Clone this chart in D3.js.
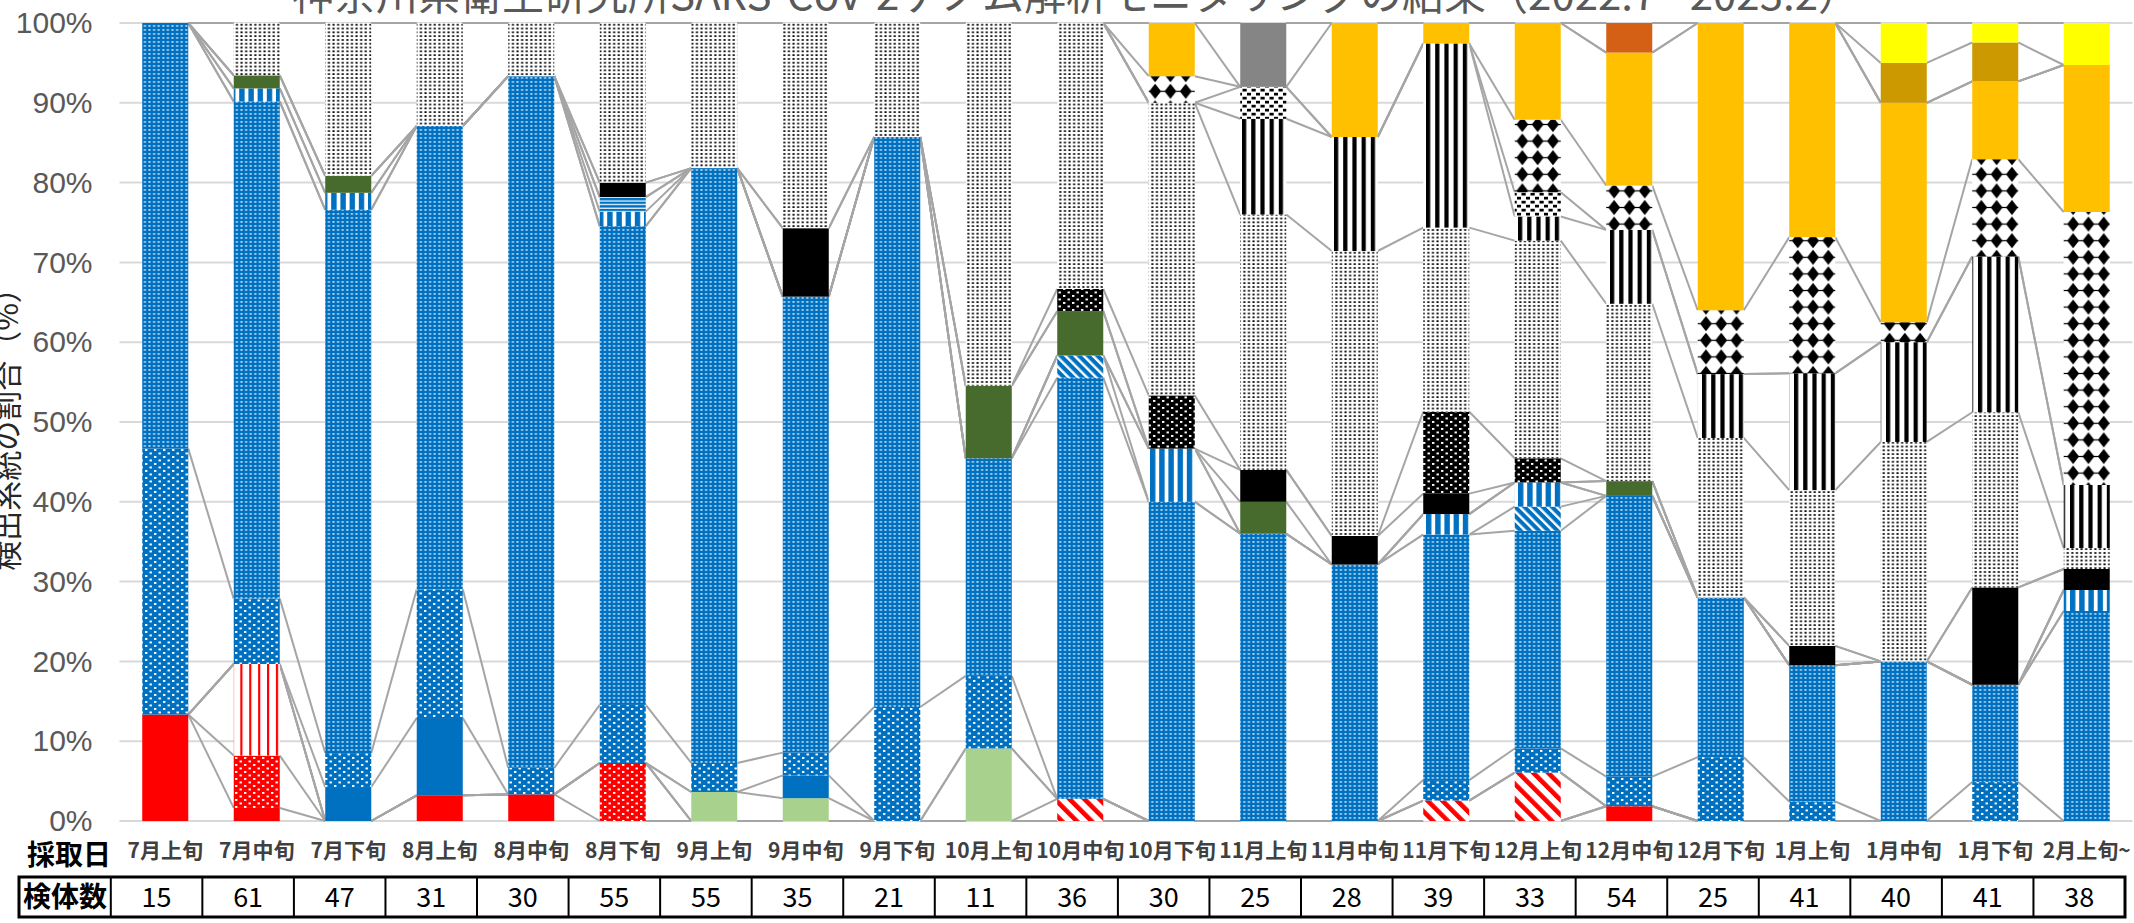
<!DOCTYPE html>
<html>
<head>
<meta charset="utf-8">
<script src="https://cdn.jsdelivr.net/npm/d3@7"></script>
<style>
    body { margin: 0; background: #ffffff; }
</style>
</head>
<body>
<div id="chart"></div>
<script>
// 採取日 (sampling period) and 検体数 (number of specimens)
const categories = ["7月上旬", "7月中旬", "7月下旬", "8月上旬", "8月中旬", "8月下旬", "9月上旬", "9月中旬", "9月下旬", "10月上旬", "10月中旬",
    "10月下旬", "11月上旬", "11月中旬", "11月下旬", "12月上旬", "12月中旬", "12月下旬", "1月上旬", "1月中旬", "1月下旬", "2月上旬~"];
const specimenCounts = [15, 61, 47, 31, 30, 55, 55, 35, 21, 11, 36, 30, 25, 28, 39, 33, 54, 25, 41, 40, 41, 38];

// Specimens per lineage group, stacked bottom -> top
const redSolid     = [2, 1, 0, 1, 1, 0, 0, 0, 0, 0, 0, 0, 0, 0, 0, 0, 1, 0, 0, 0, 0, 0];
const redDot       = [0, 4, 0, 0, 0, 4, 0, 0, 0, 0, 0, 0, 0, 0, 0, 0, 0, 0, 0, 0, 0, 0];
const redVStripe   = [0, 7, 0, 0, 0, 0, 0, 0, 0, 0, 0, 0, 0, 0, 0, 0, 0, 0, 0, 0, 0, 0];
const redDiag      = [0, 0, 0, 0, 0, 0, 0, 0, 0, 0, 1, 0, 0, 0, 1, 2, 0, 0, 0, 0, 0, 0];
const lightGreen   = [0, 0, 0, 0, 0, 0, 2, 1, 0, 1, 0, 0, 0, 0, 0, 0, 0, 0, 0, 0, 0, 0];
const blueSolid    = [0, 0, 2, 3, 0, 0, 0, 1, 0, 0, 0, 0, 0, 0, 0, 0, 0, 0, 0, 0, 0, 0];
const blueBigDot   = [5, 5, 2, 5, 1, 4, 2, 1, 3, 1, 0, 0, 0, 0, 1, 1, 2, 2, 1, 0, 2, 0];
const blueSmallDot = [8, 38, 32, 18, 26, 33, 41, 20, 15, 3, 19, 12, 9, 9, 12, 9, 19, 5, 7, 8, 5, 10];
const blueDiag     = [0, 0, 0, 0, 0, 0, 0, 0, 0, 0, 1, 0, 0, 0, 0, 1, 0, 0, 0, 0, 0, 0];
const blueVStripe  = [0, 1, 1, 0, 0, 1, 0, 0, 0, 0, 0, 2, 0, 0, 1, 1, 0, 0, 0, 0, 0, 1];
const blueHStripe  = [0, 0, 0, 0, 0, 1, 0, 0, 0, 0, 0, 0, 0, 0, 0, 0, 0, 0, 0, 0, 0, 0];
const darkGreen    = [0, 1, 1, 0, 0, 0, 0, 0, 0, 1, 2, 0, 1, 0, 0, 0, 1, 0, 0, 0, 0, 0];
const blackSolid   = [0, 0, 0, 0, 0, 1, 0, 3, 0, 0, 0, 0, 1, 1, 1, 0, 0, 0, 1, 0, 5, 1];
const blackDot     = [0, 0, 0, 0, 0, 0, 0, 0, 0, 0, 1, 2, 0, 0, 4, 1, 0, 0, 0, 0, 0, 0];
const fineDot      = [0, 4, 9, 4, 2, 11, 10, 9, 3, 5, 12, 11, 8, 10, 9, 9, 12, 5, 8, 11, 9, 1];
const blackVStripe = [0, 0, 0, 0, 0, 0, 0, 0, 0, 0, 0, 0, 3, 4, 9, 1, 5, 2, 6, 5, 8, 3];
const checker      = [0, 0, 0, 0, 0, 0, 0, 0, 0, 0, 0, 0, 1, 0, 0, 1, 0, 0, 0, 0, 0, 0];
const diamond      = [0, 0, 0, 0, 0, 0, 0, 0, 0, 0, 0, 1, 0, 0, 0, 3, 3, 2, 7, 1, 5, 13];
const orange       = [0, 0, 0, 0, 0, 0, 0, 0, 0, 0, 0, 2, 0, 4, 1, 4, 9, 9, 11, 11, 4, 7];
const gray         = [0, 0, 0, 0, 0, 0, 0, 0, 0, 0, 0, 0, 2, 0, 0, 0, 0, 0, 0, 0, 0, 0];
const darkOrange   = [0, 0, 0, 0, 0, 0, 0, 0, 0, 0, 0, 0, 0, 0, 0, 0, 2, 0, 0, 0, 0, 0];
const darkYellow   = [0, 0, 0, 0, 0, 0, 0, 0, 0, 0, 0, 0, 0, 0, 0, 0, 0, 0, 0, 2, 2, 0];
const yellow       = [0, 0, 0, 0, 0, 0, 0, 0, 0, 0, 0, 0, 0, 0, 0, 0, 0, 0, 0, 2, 1, 2];

const yTicks = [0, 0.1, 0.2, 0.3, 0.4, 0.5, 0.6, 0.7, 0.8, 0.9, 1];

const chartTitle = "神奈川県衛生研究所SARS-CoV-2ゲノム解析モニタリングの結果（2022.7 - 2023.2）";
const yTitle = "検出系統の割合（%）";

// series in stacking order, with the fill each one uses
const series = [
    {key: "redSolid", values: redSolid, fill: "#FF0000"},
    {key: "redDot", values: redDot, fill: "url(#pRedDot)"},
    {key: "redVStripe", values: redVStripe, fill: "url(#pRedVStripe)"},
    {key: "redDiag", values: redDiag, fill: "url(#pRedDiag)"},
    {key: "lightGreen", values: lightGreen, fill: "#A9D18E"},
    {key: "blueSolid", values: blueSolid, fill: "#0070C0"},
    {key: "blueBigDot", values: blueBigDot, fill: "url(#pBlueBigDot)"},
    {key: "blueSmallDot", values: blueSmallDot, fill: "url(#pBlueSmallDot)"},
    {key: "blueDiag", values: blueDiag, fill: "url(#pBlueDiag)"},
    {key: "blueVStripe", values: blueVStripe, fill: "url(#pBlueVStripe)"},
    {key: "blueHStripe", values: blueHStripe, fill: "url(#pBlueHStripe)"},
    {key: "darkGreen", values: darkGreen, fill: "#476B2D"},
    {key: "blackSolid", values: blackSolid, fill: "#000000"},
    {key: "blackDot", values: blackDot, fill: "url(#pBlackDot)"},
    {key: "fineDot", values: fineDot, fill: "url(#pFineDot)"},
    {key: "blackVStripe", values: blackVStripe, fill: "url(#pBlackVStripe)"},
    {key: "checker", values: checker, fill: "url(#pChecker)"},
    {key: "diamond", values: diamond, fill: "url(#pDiamond)"},
    {key: "orange", values: orange, fill: "#FFC000"},
    {key: "gray", values: gray, fill: "#858585"},
    {key: "darkOrange", values: darkOrange, fill: "#D36014"},
    {key: "darkYellow", values: darkYellow, fill: "#CC9900"},
    {key: "yellow", values: yellow, fill: "#FFFF00"}
];

const width = 2134, height = 923;
const plot = {left: 119.5, right: 2132.5, top: 23, bottom: 821};
const cjk = "'Noto Sans CJK JP', 'Noto Sans', sans-serif";

let svg = d3.select("#chart")
    .append("svg")
    .attr("width", width)
    .attr("height", height);

// ---------- fill patterns ----------
let defs = svg.append("defs");

function makePattern(id, w, h, bg, transform) {
    let p = defs.append("pattern")
        .attr("id", id)
        .attr("patternUnits", "userSpaceOnUse")
        .attr("width", w)
        .attr("height", h);
    if (transform) p.attr("patternTransform", transform);
    p.append("rect").attr("width", w).attr("height", h).attr("fill", bg);
    return p;
}
function dots(p, pts, w, h, color) {
    pts.forEach(function(d) {
        p.append("rect").attr("x", d[0]).attr("y", d[1]).attr("width", w).attr("height", h).attr("fill", color);
    });
}

let p;
p = makePattern("pRedDot", 9, 7, "#FF0000");
dots(p, [[1, 1], [5.5, 4.5]], 2.4, 1.9, "#ffffff");

p = makePattern("pRedVStripe", 8.9, 10, "#ffffff");
p.append("rect").attr("x", 0).attr("width", 2.2).attr("height", 10).attr("fill", "#FF0000");

p = makePattern("pRedDiag", 10.5, 10, "#ffffff", "rotate(-45)");
p.append("rect").attr("x", 0).attr("width", 4.6).attr("height", 10).attr("fill", "#FF0000");

p = makePattern("pBlueBigDot", 9, 7, "#0070C0");
dots(p, [[1, 1], [5.5, 4.5]], 2.4, 1.9, "#ffffff");

p = makePattern("pBlueSmallDot", 4.6, 4, "#0070C0");
dots(p, [[1.3, 1.3]], 2, 1.3, "#ffffff");

p = makePattern("pBlueDiag", 6.5, 10, "#0070C0", "rotate(-45)");
p.append("rect").attr("x", 0).attr("width", 2.4).attr("height", 10).attr("fill", "#ffffff");

p = makePattern("pBlueVStripe", 9.2, 10, "#0070C0");
p.append("rect").attr("x", 5.4).attr("width", 3.8).attr("height", 10).attr("fill", "#ffffff");

p = makePattern("pBlueHStripe", 10, 3.6, "#0070C0");
p.append("rect").attr("y", 2.4).attr("width", 10).attr("height", 1.2).attr("fill", "#ffffff");

p = makePattern("pBlackDot", 9, 7, "#000000");
dots(p, [[1, 1], [5.5, 4.5]], 2.4, 1.9, "#ffffff");

p = makePattern("pFineDot", 4.6, 3.8, "#ffffff");
dots(p, [[1.3, 1.1]], 2.1, 1.7, "#000000");

p = makePattern("pBlackVStripe", 9.2, 10, "#ffffff");
p.append("rect").attr("x", 0).attr("width", 4.2).attr("height", 10).attr("fill", "#000000");

p = makePattern("pChecker", 9, 8, "#ffffff");
dots(p, [[0.5, 0.8], [5, 4.8]], 4.2, 2.7, "#000000");

p = makePattern("pDiamond", 15.3, 16.6, "#ffffff");
p.append("polygon")
    .attr("points", "7.65,0.8 13.6,8.3 7.65,15.8 1.7,8.3")
    .attr("fill", "#000000");
p.append("rect").attr("x", 0).attr("y", 7.7).attr("width", 15.3).attr("height", 1.2).attr("fill", "#000000");

// ---------- scales ----------
let x = d3.scaleBand()
    .domain(categories)
    .range([plot.left, plot.right])
    .paddingInner(0.497)
    .paddingOuter(0.2485);

let y = d3.scaleLinear()
    .domain([0, 1])
    .range([plot.bottom, plot.top]);

// rows of shares for the 100% stack
let rows = categories.map(function(c, i) {
    let row = {cat: c};
    series.forEach(function(s) { row[s.key] = s.values[i] / specimenCounts[i]; });
    return row;
});
let stacked = d3.stack().keys(series.map(s => s.key))(rows);

// ---------- title (its top runs off the page, as in the original) ----------
svg.append("text")
    .attr("x", 1076)
    .attr("y", 10)
    .attr("text-anchor", "middle")
    .style("font-family", cjk)
    .style("font-size", "42px")
    .style("fill", "#595959")
    .text(chartTitle);

// ---------- gridlines ----------
svg.append("g")
    .selectAll("line")
    .data(yTicks)
    .enter()
    .append("line")
    .attr("x1", plot.left)
    .attr("x2", plot.right)
    .attr("y1", d => y(d))
    .attr("y2", d => y(d))
    .attr("stroke", "#D9D9D9")
    .attr("stroke-width", 2);

// y axis labels
let yAxis = svg.append("g")
    .attr("transform", `translate(${plot.left}, 0)`)
    .call(d3.axisLeft(y).tickValues(yTicks).tickFormat(d3.format(".0%")).tickSize(0).tickPadding(27));
yAxis.select(".domain").remove();
yAxis.selectAll("text")
    .style("font-family", "'Liberation Sans', Arial, sans-serif")
    .style("font-size", "30px")
    .style("fill", "#595959");

// y axis title (partly clipped at the left edge, as in the original)
svg.append("text")
    .attr("transform", `translate(18, ${(plot.top + plot.bottom) / 2})rotate(-90)`)
    .attr("text-anchor", "middle")
    .style("font-family", cjk)
    .style("font-size", "30px")
    .style("fill", "#262626")
    .text(yTitle);

// ---------- series lines ----------
let bw = x.bandwidth();
let seriesLines = [];
stacked.forEach(function(layer) {
    for (let i = 0; i < layer.length - 1; i++) {
        seriesLines.push({
            x1: x(categories[i]) + bw, y1: y(layer[i][1]),
            x2: x(categories[i + 1]), y2: y(layer[i + 1][1])
        });
    }
});
svg.append("g")
    .selectAll("line")
    .data(seriesLines)
    .enter()
    .append("line")
    .attr("x1", d => d.x1)
    .attr("y1", d => d.y1)
    .attr("x2", d => d.x2)
    .attr("y2", d => d.y2)
    .attr("stroke", "#A5A5A5")
    .attr("stroke-width", 2);

// ---------- stacked bars ----------
svg.append("g")
    .selectAll("g")
    .data(stacked)
    .enter()
    .append("g")
    .attr("fill", (d, i) => series[i].fill)
    .selectAll("rect")
    .data(d => d)
    .enter()
    .append("rect")
    .attr("x", d => x(d.data.cat))
    .attr("y", d => y(d[1]))
    .attr("width", bw)
    .attr("height", d => y(d[0]) - y(d[1]));

// ---------- category labels (採取日) ----------
svg.append("text")
    .attr("x", 69)
    .attr("y", 855)
    .attr("dy", "0.36em")
    .attr("text-anchor", "middle")
    .style("font-family", cjk)
    .style("font-weight", "bold")
    .style("font-size", "28px")
    .style("fill", "#000000")
    .text("採取日");

let xAxis = svg.append("g")
    .attr("transform", `translate(0, ${plot.bottom})`)
    .call(d3.axisBottom(x).tickSize(0).tickPadding(22));
xAxis.select(".domain").remove();
xAxis.selectAll("text")
    .style("font-family", cjk)
    .style("font-weight", "bold")
    .style("font-size", "21px")
    .style("fill", "#404040");

// ---------- specimen count table (検体数) ----------
let tableTop = 877, tableBottom = 917, tableLeft = 19, tableRight = 2125;
let tx = d3.scaleBand()
    .domain(categories)
    .range([110.8, tableRight]);

let table = svg.append("g");
table.append("rect")
    .attr("x", tableLeft)
    .attr("y", tableTop)
    .attr("width", tableRight - tableLeft)
    .attr("height", tableBottom - tableTop)
    .attr("fill", "none")
    .attr("stroke", "#000000")
    .attr("stroke-width", 3);

table.selectAll("line")
    .data(categories)
    .enter()
    .append("line")
    .attr("x1", d => tx(d))
    .attr("x2", d => tx(d))
    .attr("y1", tableTop)
    .attr("y2", tableBottom)
    .attr("stroke", "#000000")
    .attr("stroke-width", 2);

table.append("text")
    .attr("x", (tableLeft + 110.8) / 2)
    .attr("y", (tableTop + tableBottom) / 2)
    .attr("dy", "0.36em")
    .attr("text-anchor", "middle")
    .style("font-family", cjk)
    .style("font-weight", "bold")
    .style("font-size", "28px")
    .text("検体数");

table.selectAll("text.count")
    .data(specimenCounts)
    .enter()
    .append("text")
    .attr("class", "count")
    .attr("x", (d, i) => tx(categories[i]) + tx.bandwidth() / 2)
    .attr("y", (tableTop + tableBottom) / 2)
    .attr("dy", "0.36em")
    .attr("text-anchor", "middle")
    .style("font-family", cjk)
    .style("font-size", "27px")
    .style("fill", "#000000")
    .text(d => d);
</script>
</body>
</html>
